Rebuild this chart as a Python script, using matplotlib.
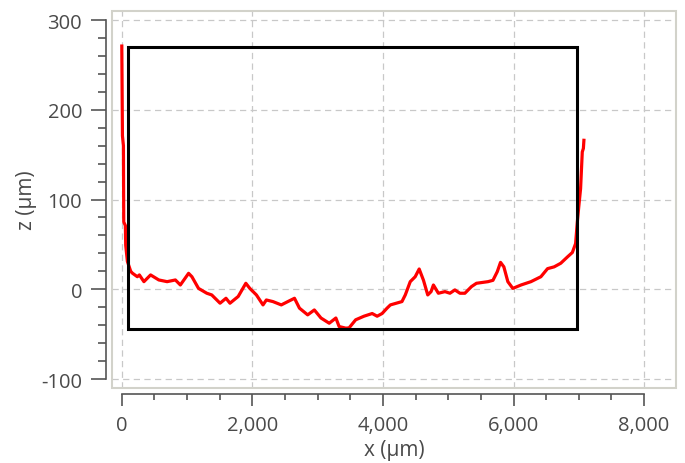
import matplotlib.pyplot as plt
from matplotlib.patches import Rectangle
from matplotlib.ticker import MultipleLocator, FuncFormatter

plt.rcParams["font.family"] = ["Open Sans", "DejaVu Sans"]

# profile along x (µm) and height z (µm)
x_um = [0, 10, 25, 30, 55, 60, 86, 137, 162, 238, 269, 339, 441, 567, 694,
        821, 897, 1023, 1074, 1175, 1302, 1378, 1505, 1596, 1657, 1783,
        1900, 1961, 2062, 2163, 2214, 2315, 2443, 2543, 2645, 2721, 2847,
        2949, 3051, 3177, 3279, 3329, 3431, 3481, 3582, 3709, 3835, 3911,
        3987, 4063, 4114, 4291, 4342, 4418, 4494, 4555, 4621, 4686, 4737,
        4773, 4849, 4950, 5026, 5102, 5179, 5255, 5356, 5432, 5609, 5685,
        5751, 5801, 5852, 5913, 5989, 6115, 6267, 6419, 6521, 6622, 6723,
        6825, 6901, 6951, 6977, 7002, 7027, 7053, 7070, 7078]
z_um = [271, 171, 160, 75, 71, 49, 31, 20, 18, 14, 16, 8.5, 16, 10.4, 8.5,
        10.4, 4.8, 17.8, 14, 1, -4.4, -6.3, -15.5, -10, -15.5, -8,
        6.7, 1, -6.3, -17.4, -11.9, -13.7, -17.4, -13.7, -10, -21, -28.5,
        -23, -32, -37.8, -32, -41.5, -43.3, -43, -34, -30, -27, -30,
        -27, -21, -17.4, -13.7, -6.3, 8.5, 14, 22.6, 10, -6.3, -2.6,
        4.8, -4.4, -2.6, -4.4, -0.7, -4.4, -4.4, 3, 6.7, 8.5, 10,
        19.6, 30, 25, 8.5, 1, 4.8, 8.5, 14, 23, 25, 29,
        36, 41, 51, 75, 94, 112, 153, 157, 166]

# selected region
roi_x = [100, 6970]
roi_z = [-44, 270]

text_color = "#4a4a4a"
tick_color = "#555555"

fig = plt.figure(figsize=(6.85, 4.64), dpi=100)
ax = fig.add_axes([0.1635, 0.1616, 0.8235, 0.8124])

ax.set_xlim(-150, 8490)
ax.set_ylim(-110, 310)

ax.grid(True, color="#c8c8c8", linestyle=(0, (5, 3.5)), linewidth=0.9)
ax.set_axisbelow(True)

ax.plot(x_um, z_um, color="red", linewidth=2.3, zorder=3)
ax.add_patch(Rectangle((roi_x[0], roi_z[0]), roi_x[1] - roi_x[0],
                       roi_z[1] - roi_z[0], fill=False, edgecolor="black",
                       linewidth=2.2, zorder=4))

# light frame around the plotting area
ax.add_patch(Rectangle((0, 0), 1, 1, transform=ax.transAxes, fill=False,
                       edgecolor="#d2d2ca", linewidth=1.5, clip_on=False,
                       zorder=5))

for side in ("top", "right"):
    ax.spines[side].set_visible(False)
ax.spines["left"].set_position(("outward", 4))
ax.spines["bottom"].set_position(("outward", 4))
ax.spines["left"].set_bounds(-100, 300)
ax.spines["bottom"].set_bounds(0, 8000)
for side in ("left", "bottom"):
    ax.spines[side].set_color(tick_color)
    ax.spines[side].set_linewidth(1.2)

ax.xaxis.set_major_locator(MultipleLocator(2000))
ax.xaxis.set_minor_locator(MultipleLocator(500))
ax.yaxis.set_major_locator(MultipleLocator(100))
ax.yaxis.set_minor_locator(MultipleLocator(20))
ax.xaxis.set_major_formatter(FuncFormatter(lambda v, p: f"{v:,.0f}"))
ax.yaxis.set_major_formatter(FuncFormatter(lambda v, p: f"{v:.0f}"))

ax.tick_params(which="both", width=1.2, color=tick_color, direction="out")
ax.tick_params(which="major", labelcolor=text_color, labelsize=14.5)
ax.tick_params(axis="y", which="major", length=10.5, pad=7)
ax.tick_params(axis="y", which="minor", length=5.5)
ax.tick_params(axis="x", which="major", length=8.5, pad=7)
ax.tick_params(axis="x", which="minor", length=4.3)

ax.set_xlabel("x (µm)", fontsize=15, color=text_color, labelpad=3)
ax.set_ylabel("z (µm)", fontsize=15, color=text_color, labelpad=3)

fig.savefig("out.png", dpi=100)
